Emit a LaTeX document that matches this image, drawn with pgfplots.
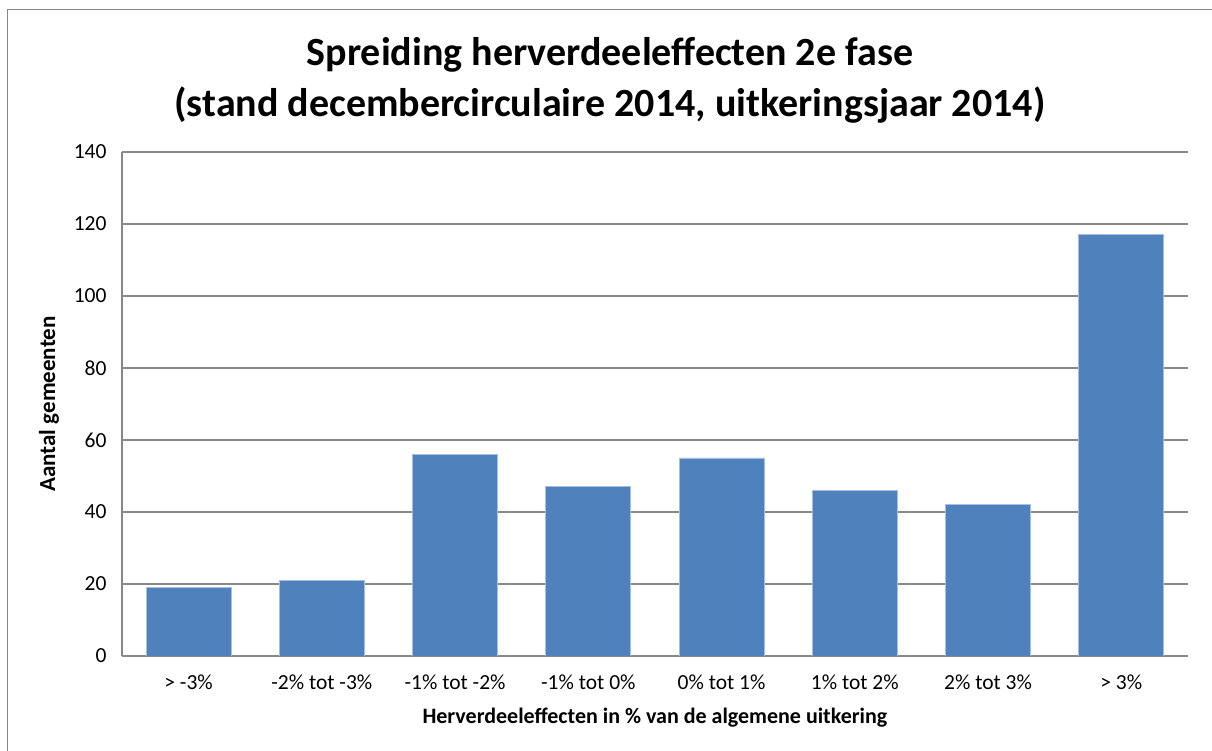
\documentclass[border=0pt]{standalone}
\usepackage{fontspec}
\setmainfont{Carlito}
\usepackage{pgfplots}
\pgfplotsset{compat=1.18}
\definecolor{barblue}{HTML}{4F81BD}
\definecolor{baredge}{HTML}{A7BFDE}
\definecolor{gridgray}{HTML}{888888}
\begin{document}
\begin{tikzpicture}[x=1pt,y=1pt]
\path[use as bounding box] (-122,-95) rectangle (1090,656);
\draw[gridgray, line width=1.5pt] (-114.5,-95) -- (-114.5,646.5) -- (1090,646.5);
\begin{axis}[
  at={(0,0)}, anchor=south west,
  scale only axis, width=1066pt, height=504pt,
  xmin=-0.5, xmax=7.5, ymin=0, ymax=140,
  ytick={0,20,...,140},
  xtick={0,...,7},
  xticklabels={{> -3\%},{-2\% tot -3\%},{-1\% tot -2\%},{-1\% tot 0\%},{0\% tot 1\%},{1\% tot 2\%},{2\% tot 3\%},{> 3\%}},
  axis lines*=left,
  axis line style={gridgray, line width=1.5pt},
  ymajorgrids, grid style={gridgray, line width=1.3pt},
  major tick length=0pt,
  /pgf/number format/assume math mode=true,
  tick label style={font=\fontsize{21.5}{24}\selectfont},
  yticklabel style={xshift=-12pt},
  xticklabel style={yshift=-15pt},
  ybar, bar width=85pt,
  xlabel={Herverdeeleffecten in \% van de algemene uitkering},
  ylabel={Aantal gemeenten},
  every axis x label/.style={at={(axis description cs:0.5,0)}, anchor=center, yshift=-62pt, font=\fontsize{22}{26}\selectfont\bfseries},
  every axis y label/.style={at={(axis description cs:0,0.5)}, anchor=center, rotate=90, yshift=73pt, font=\fontsize{23}{26}\selectfont\bfseries},
]
\addplot[fill=barblue, draw=baredge, line width=0.8pt] coordinates {
(0,19) (1,21) (2,56) (3,47) (4,55) (5,46) (6,42) (7,117)};
\end{axis}
\node[font=\fontsize{40}{44}\selectfont\bfseries] at (488,601) {Spreiding herverdeeleffecten 2e fase};
\node[font=\fontsize{40}{44}\selectfont\bfseries] at (488,551) {(stand decembercirculaire 2014, uitkeringsjaar 2014)};
\end{tikzpicture}
\end{document}
